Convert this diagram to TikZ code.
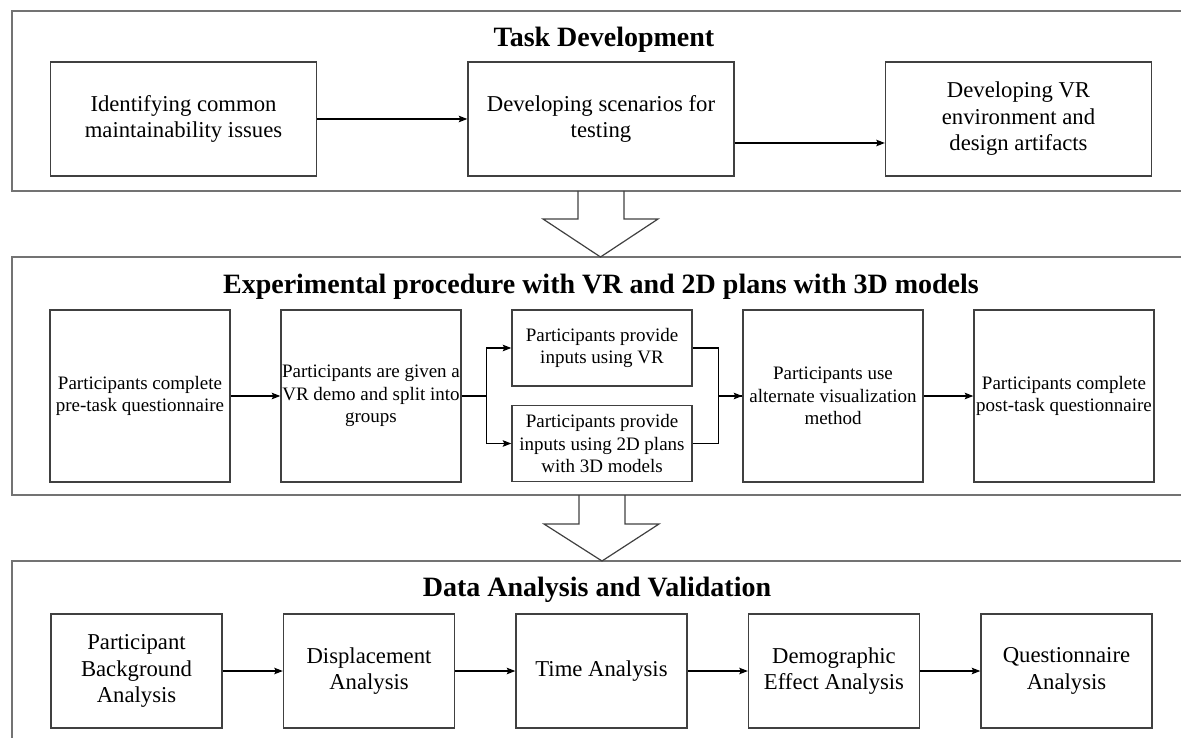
\documentclass[tikz,border=0pt]{standalone}
\usepackage{fontspec}
\setmainfont{Liberation Serif}
\usepackage{tikz}
\usetikzlibrary{arrows,arrows.meta,positioning}

\begin{document}
\begin{tikzpicture}[->,>={Stealth[length=8.5pt,width=6.5pt,inset=1.5pt]},x=1pt,y=-1pt,line width=1.1pt]
  \tikzstyle{panel}=[-,draw=black!55,line width=1.8pt]
  \tikzstyle{title}=[anchor=base,font=\bfseries\fontsize{28}{33}\selectfont]
  \tikzstyle{box}=[draw=black!75,line width=1.4pt,align=center,inner sep=0pt]
  \tikzstyle{task}=[box,minimum width=266pt,minimum height=114pt,font=\fontsize{22.7}{26.5}\selectfont]
  \tikzstyle{proc}=[box,minimum width=180pt,minimum height=172pt,font=\fontsize{19}{22.7}\selectfont]
  \tikzstyle{half}=[proc,minimum height=76pt]
  \tikzstyle{ana}=[box,minimum width=171pt,minimum height=114pt,font=\fontsize{22.7}{26.3}\selectfont]
  \tikzstyle{block}=[-,draw=black!75,line width=1.2pt]

  \useasboundingbox (0,0) rectangle (1181,738);
  \clip (0,0) rectangle (1181,738);

  % the three stages
  \draw[panel] (12,11) rectangle (1200,191);
  \draw[panel] (12,257) rectangle (1200,495);
  \draw[panel] (12,561) rectangle (1200,760);

  \node[title] (H1) at (604,47) {Task Development};
  \node[title] (H2) at (601,294) {Experimental procedure with VR and 2D plans with 3D models};
  \node[title] (H3) at (597,596) {Data Analysis and Validation};

  % task development
  \node[task] (T1) at (183.5,119) {Identifying common\\maintainability issues};
  \node[task] (T2) [node distance=417.5pt,right of=T1] {Developing scenarios for\\testing};
  \node[task] (T3) [node distance=417.5pt,right of=T2] {Developing VR\\environment and\\design artifacts};

  \path (T1) edge (T2);
  \draw ([yshift=-24pt]T2.east) -- ([yshift=-24pt]T3.west);

  \draw[block] (578,191) -- (578,219) -- (543,219) -- (600.5,257) -- (658,219) -- (624,219) -- (624,191);

  % experimental procedure
  \node[proc] (E1) at (140,396) {Participants complete\\pre-task questionnaire};
  \node[proc] (E2) [node distance=231pt,right of=E1] {Participants are given a\\VR demo and split into\\groups};
  \node[coordinate] (mid) [node distance=231pt,right of=E2] {};
  \node[half] (E3a) at ([yshift=48pt]mid) {Participants provide\\inputs using VR};
  \node[half] (E3b) at ([yshift=-47.5pt]mid) {Participants provide\\inputs using 2D plans\\with 3D models};
  \node[proc] (E4) [node distance=231pt,right of=mid] {Participants use\\alternate visualization\\method};
  \node[proc] (E5) [node distance=231pt,right of=E4] {Participants complete\\post-task questionnaire};

  \path (E1) edge (E2);
  \draw (E2.east) -- ++(25,0) |- (E3a.west);
  \draw (E2.east) -- ++(25,0) |- (E3b.west);
  \draw (E3a.east) -- ++(26,0) |- (E4.west);
  \draw[-] (E3b.east) -- ++(26,0) |- (E4.west);
  \path (E4) edge (E5);

  \draw[block] (579,495) -- (579,524) -- (544,524) -- (602,561) -- (659,524) -- (625,524) -- (625,495);

  % analysis
  \node[ana] (D1) at (136.5,671) {Participant\\Background\\Analysis};
  \node[ana] (D2) [node distance=232.5pt,right of=D1] {Displacement\\Analysis};
  \node[ana] (D3) [node distance=232.5pt,right of=D2] {Time Analysis};
  \node[ana] (D4) [node distance=232.5pt,right of=D3] {Demographic\\Effect Analysis};
  \node[ana] (D5) [node distance=232.5pt,right of=D4] {Questionnaire\\Analysis};

  \path (D1) edge (D2);
  \path (D2) edge (D3);
  \path (D3) edge (D4);
  \path (D4) edge (D5);
\end{tikzpicture}
\end{document}
